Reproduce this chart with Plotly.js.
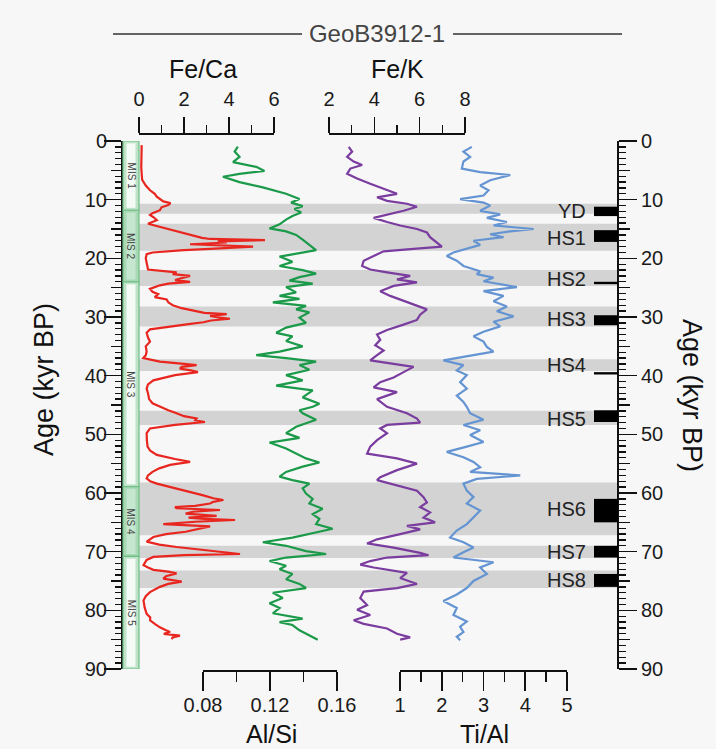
<!DOCTYPE html>
<html><head><meta charset="utf-8">
<script src="https://cdn.plot.ly/plotly-3.0.1.min.js"></script>
<style>html,body{margin:0;padding:0;background:#f7f7f7;}#chart{width:716px;height:749px;}</style>
</head><body><div id="chart"></div>
<script>
// ---------------- DATA (age kyr BP, value) ----------------
const feCaData = [[0.7,0.12],[2.5,0.1],[4.5,0.1],[6.6,0.14],[7.6,0.3],[8.4,0.49],[9.0,0.7],[9.5,0.79],[10.0,1.0],[10.3,1.08],[10.6,1.4],[10.9,1.3],[11.3,1.0],[11.8,0.93],[12.3,0.6],[12.6,0.49],[13.0,0.65],[13.5,0.79],[14.1,0.4],[14.6,0.9],[15.0,1.23],[15.4,1.6],[15.8,2.12],[16.2,2.5],[16.5,2.8],[16.7,3.16],[16.9,5.6],[17.1,3.5],[17.3,3.9],[17.6,2.27],[17.8,4.0],[18.0,5.07],[18.3,3.6],[18.6,2.0],[19.0,0.6],[19.3,0.34],[20.0,0.3],[21.0,0.35],[21.9,0.4],[22.4,1.67],[22.7,1.5],[23.0,2.27],[23.4,1.9],[23.7,1.6],[24.0,2.27],[24.3,1.3],[24.6,0.93],[25.2,0.49],[25.7,0.6],[26.1,0.85],[26.6,0.7],[27.0,1.23],[27.5,1.3],[28.0,1.5],[28.5,1.9],[28.9,2.41],[29.3,2.9],[29.5,3.9],[29.8,3.16],[30.1,3.6],[30.3,4.04],[30.6,3.2],[30.9,2.86],[31.2,2.2],[31.5,1.67],[32.1,0.49],[32.7,0.34],[33.5,0.4],[34.2,0.49],[35.0,0.3],[35.9,0.34],[36.5,0.3],[37.0,0.19],[37.3,0.5],[37.6,0.93],[38.0,2.0],[38.2,2.56],[38.5,1.9],[38.8,1.82],[39.1,2.3],[39.4,2.62],[39.9,1.6],[40.4,1.0],[40.8,0.64],[41.5,0.4],[42.2,0.34],[43.0,0.4],[44.0,0.45],[44.7,0.6],[45.3,0.93],[45.9,1.3],[46.4,1.67],[46.9,2.0],[47.3,2.56],[47.6,2.5],[47.9,2.93],[48.4,1.6],[49.0,0.49],[49.8,0.34],[51.0,0.35],[52.1,0.38],[52.8,0.5],[53.5,0.79],[54.2,1.6],[54.7,2.27],[55.2,1.38],[55.8,0.9],[56.4,0.6],[57.0,0.4],[57.5,0.34],[58.0,0.5],[58.4,0.79],[59.2,1.67],[59.8,2.3],[60.4,2.86],[60.9,3.3],[61.2,3.75],[61.5,3.3],[61.8,3.16],[62.2,2.5],[62.4,1.6],[62.6,1.67],[62.9,3.6],[63.2,2.4],[63.5,2.07],[63.9,3.45],[64.2,2.2],[64.4,2.9],[64.6,4.27],[64.9,2.5],[65.1,1.6],[65.3,1.08],[65.7,3.16],[66.2,2.6],[66.6,2.07],[67.0,1.2],[67.5,0.64],[68.3,0.34],[68.8,0.9],[69.2,1.67],[69.6,2.6],[70.0,3.45],[70.4,4.49],[70.6,2.0],[70.9,0.64],[71.4,0.34],[72.3,0.2],[72.7,0.4],[73.1,0.64],[73.4,1.3],[73.7,1.67],[74.2,1.2],[74.6,1.08],[75.1,1.9],[75.5,1.3],[76.0,0.93],[76.9,0.49],[77.6,0.3],[78.3,0.2],[79.5,0.25],[80.6,0.34],[81.2,0.5],[81.7,0.49],[82.3,0.7],[82.9,0.93],[83.4,1.2],[83.7,1.38],[84.0,1.1],[84.3,1.82],[84.6,1.5],[84.9,1.45]];

const alSiData = [[0.97,0.1008],[1.8,0.0989],[2.7,0.1018],[3.6,0.0979],[4.4,0.1118],[5.1,0.1167],[5.6,0.1018],[6.1,0.0919],[7.0,0.1018],[7.9,0.1157],[9.0,0.1296],[9.9,0.1376],[10.5,0.1326],[11.1,0.1395],[11.6,0.1346],[12.2,0.1386],[12.8,0.1334],[13.4,0.1296],[14.2,0.1257],[14.9,0.1197],[15.4,0.1296],[16.0,0.1356],[16.8,0.1395],[17.7,0.1435],[18.6,0.1475],[19.1,0.1376],[19.7,0.1257],[20.6,0.1334],[21.3,0.1257],[22.0,0.1395],[22.6,0.1475],[23.2,0.1376],[23.8,0.1316],[24.3,0.1455],[24.9,0.1296],[25.8,0.1356],[26.4,0.1257],[26.9,0.1376],[27.5,0.1217],[28.1,0.1415],[28.7,0.1356],[29.2,0.1435],[30.1,0.1376],[31.0,0.1415],[31.8,0.1296],[32.7,0.1237],[33.3,0.1334],[34.1,0.1296],[35.0,0.1395],[35.9,0.1257],[36.5,0.1118],[37.0,0.1296],[37.6,0.1475],[38.2,0.1376],[39.0,0.1435],[39.9,0.1296],[40.8,0.1395],[41.7,0.1237],[42.5,0.1455],[43.7,0.1395],[44.8,0.1495],[45.3,0.1455],[45.9,0.1376],[46.4,0.1395],[47.5,0.1475],[48.7,0.1356],[49.8,0.1296],[50.6,0.1376],[51.4,0.1197],[52.4,0.1296],[53.2,0.1356],[54.1,0.1415],[54.8,0.1495],[55.5,0.1395],[56.4,0.1296],[57.2,0.1257],[57.8,0.1334],[58.4,0.1435],[59.2,0.1395],[60.1,0.1415],[61.0,0.1455],[61.8,0.1435],[62.7,0.1514],[63.6,0.1455],[64.4,0.1495],[65.3,0.1475],[66.1,0.1574],[66.7,0.1475],[67.6,0.1334],[68.4,0.1157],[69.0,0.1296],[69.9,0.1415],[70.4,0.1535],[71.0,0.1296],[71.6,0.1197],[72.4,0.1296],[73.0,0.1257],[73.8,0.1334],[74.7,0.1296],[75.5,0.1376],[76.2,0.1415],[77.0,0.1217],[77.9,0.1276],[78.8,0.1197],[79.6,0.1257],[80.5,0.1217],[81.4,0.1395],[82.0,0.1257],[82.5,0.1334],[83.4,0.1376],[84.3,0.1435],[85.0,0.1485]];

const feKData = [[1.0,2.87],[1.8,3.02],[2.7,2.80],[3.5,3.09],[4.1,3.46],[4.7,2.94],[5.6,2.80],[6.4,3.24],[7.3,3.82],[8.2,4.41],[9.0,5.0],[9.6,4.12],[10.2,4.56],[10.7,5.44],[11.2,5.88],[11.9,5.29],[12.5,4.56],[13.1,3.97],[13.8,4.56],[14.4,5.14],[15.0,5.88],[15.6,6.32],[16.4,6.46],[17.3,6.76],[18.0,6.98],[18.4,5.73],[18.8,4.41],[19.6,3.97],[20.4,3.53],[21.3,3.46],[21.9,3.82],[22.4,4.56],[23.0,5.58],[23.6,5.0],[24.1,5.88],[24.7,4.85],[25.6,4.26],[26.4,4.70],[27.0,5.14],[27.9,5.73],[28.7,6.32],[29.6,6.02],[30.5,5.88],[31.3,5.29],[32.2,4.56],[33.0,4.12],[33.9,4.26],[34.8,4.04],[35.7,4.41],[36.5,4.12],[37.4,3.82],[38.0,4.85],[38.5,5.73],[39.4,5.29],[40.3,4.85],[41.1,4.26],[42.0,3.97],[42.8,5.0],[44.0,4.12],[45.3,4.56],[46.4,5.44],[47.3,5.88],[48.0,6.02],[48.4,4.56],[49.0,4.26],[49.8,4.56],[51.0,4.12],[52.1,3.82],[53.3,3.68],[54.1,5.0],[55.0,5.88],[56.1,5.0],[57.3,4.26],[57.8,4.12],[58.7,5.0],[59.6,5.88],[60.7,6.17],[61.6,6.32],[62.4,6.02],[63.3,6.46],[64.2,6.17],[65.0,6.68],[65.6,5.44],[66.2,6.02],[67.0,5.14],[67.9,4.12],[68.6,3.68],[69.3,4.85],[70.2,6.02],[70.6,6.39],[71.0,4.56],[71.6,3.82],[72.2,3.38],[72.7,3.97],[73.6,5.44],[74.5,5.14],[75.5,5.88],[76.2,5.0],[76.8,3.53],[77.9,3.38],[79.1,3.68],[79.9,3.24],[80.8,3.82],[81.7,3.09],[82.3,3.53],[83.1,4.56],[84.0,5.0],[84.6,5.58],[85.0,5.14]];

const tiAlData = [[1.0,2.72],[1.8,2.52],[2.7,2.68],[3.5,2.52],[4.7,2.48],[5.3,2.92],[5.8,3.64],[6.7,3.16],[7.6,2.92],[8.4,3.12],[9.3,3.0],[9.9,2.44],[10.5,3.0],[11.0,3.16],[11.9,2.92],[12.5,3.40],[13.1,3.08],[13.8,3.56],[14.4,3.24],[15.0,4.20],[15.4,3.64],[15.9,3.16],[16.4,3.48],[17.0,2.76],[17.7,2.92],[18.4,2.60],[19.0,2.28],[19.6,2.12],[20.4,2.36],[21.3,2.52],[22.2,2.92],[22.7,2.84],[23.3,3.24],[23.9,3.0],[24.9,3.80],[25.6,3.0],[26.4,3.48],[27.3,3.24],[28.2,3.56],[29.0,3.32],[29.9,3.72],[30.8,3.24],[31.6,3.40],[32.5,3.0],[33.3,2.76],[34.2,3.0],[35.1,3.08],[35.9,3.24],[36.8,2.52],[37.4,2.04],[38.2,2.52],[39.1,2.36],[39.9,2.60],[41.1,2.44],[42.2,2.60],[43.4,2.36],[44.5,2.52],[45.3,2.60],[46.4,2.68],[47.5,3.0],[48.4,2.52],[49.3,2.92],[50.1,2.68],[51.3,3.0],[52.1,2.60],[53.0,2.12],[53.9,2.52],[54.7,2.76],[55.6,2.92],[56.4,2.68],[57.0,3.88],[57.6,2.84],[58.4,2.52],[59.6,2.60],[60.7,2.76],[61.8,2.60],[63.0,2.92],[64.2,2.76],[65.3,2.60],[66.4,2.36],[67.6,2.20],[68.4,2.52],[69.3,2.76],[70.1,2.52],[71.0,2.28],[71.8,3.24],[72.7,2.92],[73.8,3.08],[75.0,2.76],[76.2,2.60],[77.3,2.36],[78.4,2.04],[79.6,2.36],[80.8,2.28],[81.9,2.60],[82.8,2.44],[83.7,2.52],[84.5,2.36],[85.1,2.44]];

const misNames = ['MIS 1','MIS 2','MIS 3','MIS 4','MIS 5'];
const misBounds = [0, 11.8, 24.0, 58.9, 70.8, 90];

const eventNames = ['YD','HS1','HS2','HS3','HS4','HS5','HS6','HS7','HS8'];
const bandStart = [10.7, 14.1, 22.0, 28.2, 37.2, 46.0, 58.2, 69.0, 73.2];
const bandEnd   = [12.4, 18.7, 24.7, 31.6, 39.2, 48.4, 67.2, 71.1, 76.2];
const labelAge  = [11.9, 16.6, 23.6, 30.3, 38.2, 47.4, 62.7, 70.1, 74.8];
const barStart  = [11.2, 15.2, 24.0, 29.7, 39.4, 45.9, 61.0, 69.0, 73.8];
const barEnd    = [12.8, 17.2, 24.4, 31.4, 39.8, 47.9, 65.0, 71.0, 76.0];

const feCaTicks = [0,2,4,6], feKTicks = [2,4,6,8];
const alSiTicks = [0.08,0.12,0.16], alSiTickText = ['0.08','0.12','0.16'];
const tiAlTicks = [1,2,3,4,5];
const ageTicks = [0,10,20,30,40,50,60,70,80,90];

// ---------------- LAYOUT HELPERS ----------------
const W = 716, H = 749;
const px = v => v / W;
const py = v => 1 - v / H;
const FONT = 'Liberation Sans, Arial, Helvetica, sans-serif';
const tickFont = {family: FONT, size: 20, color: '#1a1a1a'};
const yDom = [py(669), py(141)];
const ageMinor = [], ageMid = [];
for (let a = 0; a <= 90; a++) { if (a % 5 !== 0) ageMinor.push(a); else if (a % 10 !== 0) ageMid.push(a); }

const baseX = {showline:true, linecolor:'#111', linewidth:2, ticks:'outside', tickwidth:1.6, tickcolor:'#111',
  showgrid:false, zeroline:false, tickfont:tickFont, automargin:false, fixedrange:true, anchor:'free'};
const baseY = Object.assign({}, baseX, {domain:yDom, range:[90,0]});

const layout = {
  width: W, height: H,
  margin: {l:0, r:0, t:0, b:0},
  paper_bgcolor: '#f7f7f7', plot_bgcolor: 'rgba(0,0,0,0)',
  showlegend: false,
  font: {family: FONT, color: '#1a1a1a'},
  title: {text:'GeoB3912-1', x:px(377), y:py(34), xref:'paper', yref:'paper', xanchor:'center', yanchor:'middle', font:{family:FONT, size:24, color:'#444'}},
  xaxis: Object.assign({}, baseX, {domain:[px(139),px(274)], range:[0,6], side:'top', position:py(134), tickvals:feCaTicks, ticklen:16, ticklabelstandoff:3,
    minor:{tickvals:[1,3,5], ticks:'outside', ticklen:8, tickwidth:1.6, tickcolor:'#111'}}),
  xaxis2: Object.assign({}, baseX, {domain:[px(203),px(337)], range:[0.08,0.16], side:'bottom', position:py(671), tickvals:alSiTicks, ticktext:alSiTickText, ticklen:19, ticklabelstandoff:-3,
    minor:{tickvals:[0.10,0.14], ticks:'outside', ticklen:10, tickwidth:1.6, tickcolor:'#111'}}),
  xaxis3: Object.assign({}, baseX, {domain:[px(329),px(465)], range:[2,8], side:'top', position:py(134), tickvals:feKTicks, ticklen:16, ticklabelstandoff:3,
    minor:{tickvals:[3,5,7], ticks:'outside', ticklen:8, tickwidth:1.6, tickcolor:'#111'}}),
  xaxis4: Object.assign({}, baseX, {domain:[px(400),px(567)], range:[1,5], side:'bottom', position:py(671), tickvals:tiAlTicks, ticklen:19, ticklabelstandoff:-3,
    minor:{tickvals:[1.5,2.5,3.5,4.5], ticks:'outside', ticklen:10, tickwidth:1.6, tickcolor:'#111'}}),
  yaxis: Object.assign({}, baseY, {side:'left', position:px(122), tickvals:ageTicks, ticklen:17, ticklabelstandoff:-7,
    minor:{tickvals:ageMinor, ticks:'outside', ticklen:6, tickwidth:1.3, tickcolor:'#111'}}),
  yaxis2: Object.assign({}, baseY, {side:'right', overlaying:'y', position:px(618), tickvals:ageTicks, ticklen:18, ticklabelstandoff:0,
    minor:{tickvals:ageMinor, ticks:'outside', ticklen:7, tickwidth:1.3, tickcolor:'#111'}}),
  yaxis3: Object.assign({}, baseY, {side:'left', overlaying:'y', position:px(122), tickvals:ageMid, ticklen:11, showticklabels:false, showline:false}),
  yaxis4: Object.assign({}, baseY, {side:'right', overlaying:'y', position:px(618), tickvals:ageMid, ticklen:11, showticklabels:false, showline:false}),
  shapes: [], annotations: []
};

// title side lines
layout.shapes.push({type:'line', xref:'paper', yref:'paper', x0:px(113), x1:px(302), y0:py(34), y1:py(34), line:{color:'#333', width:1.5}});
layout.shapes.push({type:'line', xref:'paper', yref:'paper', x0:px(453), x1:px(622), y0:py(34), y1:py(34), line:{color:'#333', width:1.5}});

// gray event bands, black event bars, labels
for (let i = 0; i < eventNames.length; i++) {
  layout.shapes.push({type:'rect', xref:'paper', yref:'y', x0:px(139), x1:px(618), y0:bandStart[i], y1:bandEnd[i], fillcolor:'#d3d3d3', line:{width:0}, layer:'below'});
  layout.shapes.push({type:'rect', xref:'paper', yref:'y', x0:px(594), x1:px(618), y0:barStart[i], y1:barEnd[i], fillcolor:'#000', line:{width:0}, layer:'above'});
  layout.annotations.push({text:eventNames[i], xref:'paper', yref:'y', x:px(588), y:labelAge[i], xanchor:'right', yanchor:'middle', showarrow:false, font:{family:FONT, size:20, color:'#222'}});
}

// MIS bar
for (let i = 0; i < misNames.length; i++) {
  const odd = i % 2 === 0;
  layout.shapes.push({type:'rect', xref:'paper', yref:'y', x0:px(123), x1:px(139), y0:misBounds[i], y1:misBounds[i+1], fillcolor: odd ? '#bfe3c8' : '#a9d8b5', line:{color:'#6fbf86', width:1.2}, layer:'above'});
  layout.shapes.push({type:'rect', xref:'paper', yref:'y', x0:px(126.5), x1:px(135.5), y0:misBounds[i]+0.4, y1:misBounds[i+1]-0.4, fillcolor: odd ? '#f4faf5' : '#c6e7cf', line:{width:0}, layer:'above'});
  layout.annotations.push({text:misNames[i], xref:'paper', yref:'y', x:px(131), y:(misBounds[i]+misBounds[i+1])/2, textangle:90, showarrow:false, xanchor:'center', yanchor:'middle', font:{family:FONT, size:10, color:'#444'}});
}

// axis titles
const tFont = {family:FONT, size:25, color:'#111'};
const ageFont = {family:FONT, size:27, color:'#111'};
layout.annotations.push({text:'Fe/Ca', xref:'paper', yref:'paper', x:px(203), y:py(69), showarrow:false, xanchor:'center', yanchor:'middle', font:tFont});
layout.annotations.push({text:'Fe/K', xref:'paper', yref:'paper', x:px(397), y:py(69), showarrow:false, xanchor:'center', yanchor:'middle', font:tFont});
layout.annotations.push({text:'Al/Si', xref:'paper', yref:'paper', x:px(271), y:py(734), showarrow:false, xanchor:'center', yanchor:'middle', font:tFont});
layout.annotations.push({text:'Ti/Al', xref:'paper', yref:'paper', x:px(484), y:py(734), showarrow:false, xanchor:'center', yanchor:'middle', font:tFont});
layout.annotations.push({text:'Age (kyr BP)', xref:'paper', yref:'paper', x:px(44), y:py(380), textangle:-90, showarrow:false, xanchor:'center', yanchor:'middle', font:ageFont});
layout.annotations.push({text:'Age (kyr BP)', xref:'paper', yref:'paper', x:px(692), y:py(395), textangle:90, showarrow:false, xanchor:'center', yanchor:'middle', font:ageFont});

function series(data, color, xa) {
  return {type:'scatter', mode:'lines', x:data.map(d => d[1]), y:data.map(d => d[0]), xaxis:xa, yaxis:'y',
    line:{color:color, width:2.2}, hoverinfo:'skip', showlegend:false};
}
const traces = [
  series(feCaData, '#e8261f', 'x'),
  series(alSiData, '#1b9a4a', 'x2'),
  series(feKData, '#7a3c9e', 'x3'),
  series(tiAlData, '#6494d2', 'x4'),
  {type:'scatter', mode:'lines', x:[null], y:[null], xaxis:'x', yaxis:'y2', hoverinfo:'skip', showlegend:false},
  {type:'scatter', mode:'lines', x:[null], y:[null], xaxis:'x', yaxis:'y3', hoverinfo:'skip', showlegend:false},
  {type:'scatter', mode:'lines', x:[null], y:[null], xaxis:'x', yaxis:'y4', hoverinfo:'skip', showlegend:false}
];

Plotly.newPlot('chart', traces, layout, {staticPlot:true, displayModeBar:false});
</script></body></html>
